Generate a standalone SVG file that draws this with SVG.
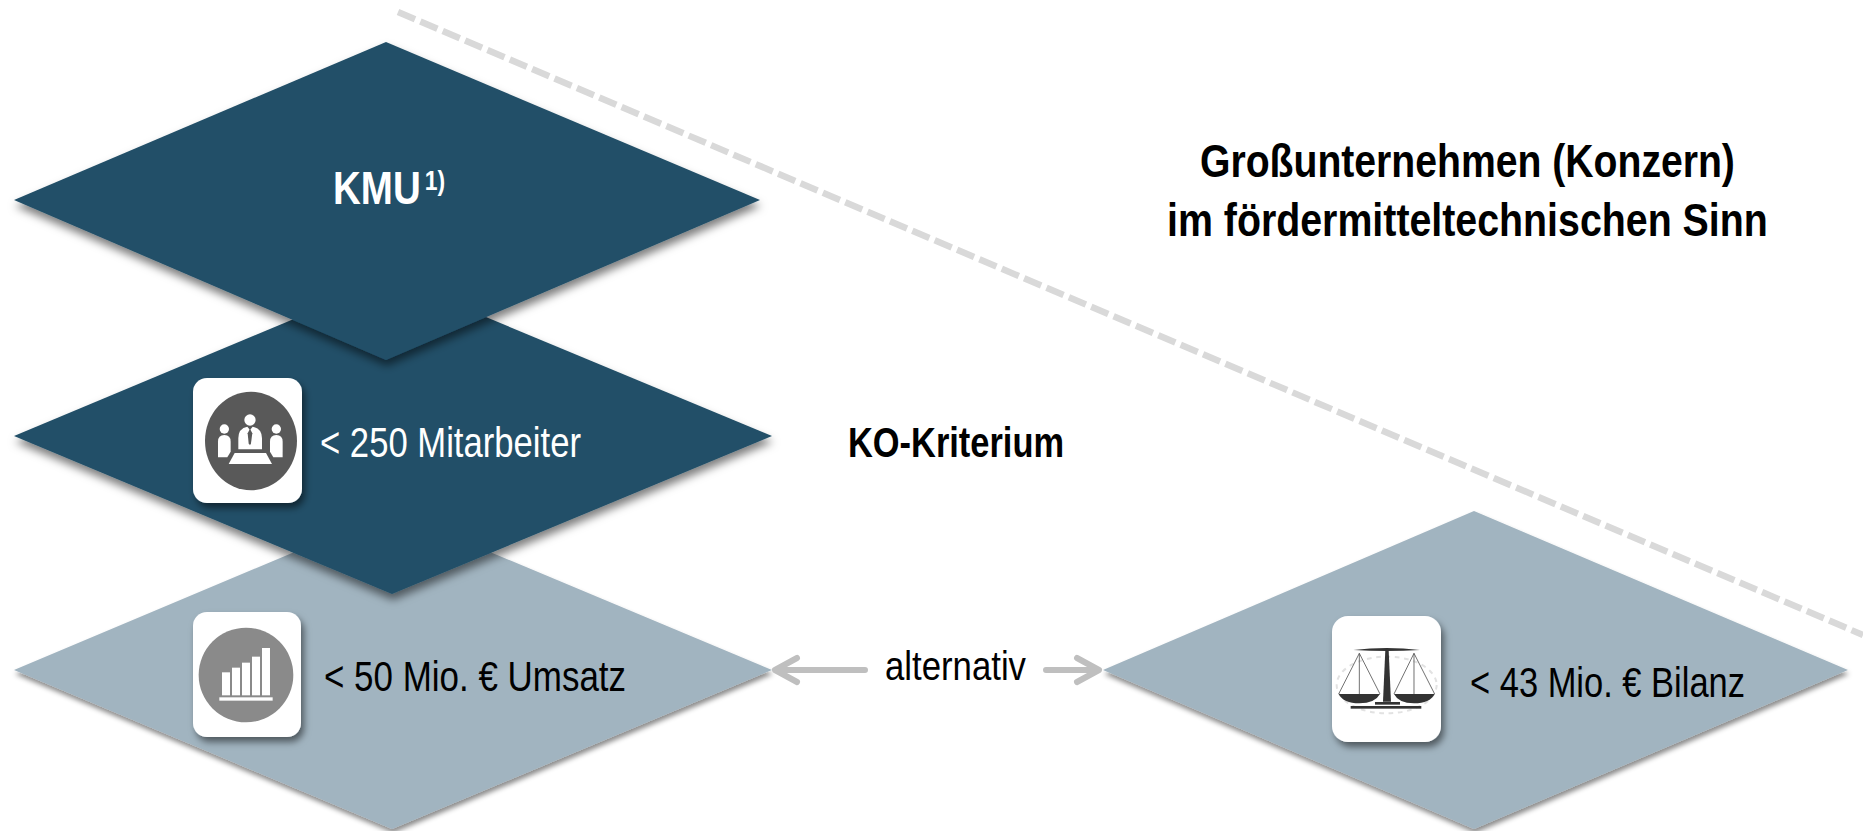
<svg xmlns="http://www.w3.org/2000/svg" width="1863" height="831" viewBox="0 0 1863 831">
<style>
text{font-family:"Liberation Sans",Arial,sans-serif}
.b{font-weight:bold}
.w{fill:#fff}
.k{fill:#000}
.dark{fill:#224f67;filter:url(#dd)}
.light{fill:#a1b4c0;filter:url(#ds)}
.card{fill:#fff;filter:url(#cs)}
.arrow{fill:none;stroke:#bfbfbf;stroke-width:6;stroke-linecap:round;stroke-linejoin:round}
</style>
<defs>
<filter id="ds" x="-5%" y="-5%" width="110%" height="115%"><feDropShadow dx="1" dy="4" stdDeviation="2.5" flood-color="#000" flood-opacity=".45"/></filter>
<filter id="dd" x="-5%" y="-5%" width="110%" height="115%"><feDropShadow dx="1" dy="6" stdDeviation="4" flood-color="#000" flood-opacity=".5"/></filter>
<filter id="cs" x="-15%" y="-15%" width="130%" height="130%"><feDropShadow dx="3" dy="5" stdDeviation="3.5" flood-color="#000" flood-opacity=".5"/></filter>
</defs>
<rect width="1863" height="831" fill="#fff"/>
<path d="M398 12L1863 635" fill="none" stroke="#d9d9d9" stroke-width="6.5" stroke-dasharray="18.5 5.8"/>
<g id="node-umsatz">
<polygon class="light" points="14,670 392,511 772,670 392,829"/>
<rect class="card" x="193" y="612" width="108" height="125" rx="14"/>
<g transform="translate(170 600) scale(.3333)">
<circle cx="228" cy="225" r="142" fill="#8a8a8a"/>
<g fill="#fff"><rect x="156" y="217" width="24" height="69"/><rect x="186" y="203" width="24" height="83"/><rect x="216" y="188" width="24" height="98"/><rect x="246" y="170" width="24" height="116"/><rect x="276" y="144" width="24" height="142"/><rect x="148" y="292" width="160" height="10"/></g>
</g>
<text class="k" x="324" y="691" font-size="42" textLength="302" lengthAdjust="spacingAndGlyphs">&lt; 50 Mio. € Umsatz</text>
</g>
<g id="node-mitarbeiter">
<polygon class="dark" points="14,436 392,278 772,436 392,594"/>
<rect class="card" x="193" y="378" width="109" height="125" rx="14"/>
<g transform="translate(170 360) scale(.3333)">
<ellipse cx="243" cy="243" rx="138" ry="148" fill="#595959"/>
<g fill="#fff">
<circle cx="240" cy="180" r="17"/><path d="M205 268V235Q205 205 232 200L240 210L248 200Q276 205 276 235V268Z"/>
<circle cx="163" cy="207" r="14"/><path d="M144 292V245Q144 225 163 225Q182 225 182 245V275L172 292Z"/>
<circle cx="319" cy="207" r="14"/><path d="M338 292V245Q338 225 319 225Q300 225 300 245V275L310 292Z"/>
<path d="M194 279H288L306 312H176Z"/>
</g>
<path d="M240 206L247 220L243 250L240 256L236 250L233 220Z" fill="#595959"/>
</g>
<text class="w" x="320" y="457" font-size="42" textLength="261" lengthAdjust="spacingAndGlyphs">&lt; 250 Mitarbeiter</text>
</g>
<g id="node-kmu">
<polygon class="dark" points="14,200 386,42 760,200 386,360"/>
<g transform="translate(333 204) scale(.82 1)">
<text class="w b" x="0" y="0" font-size="47">KMU</text>
<text class="w b" x="112" y="-14" font-size="28">1)</text>
</g>
</g>
<g id="node-bilanz">
<polygon class="light" points="1103,670 1474,511 1848,670 1474,829"/>
<rect class="card" x="1332" y="616" width="109" height="126" rx="16"/>
<g transform="translate(1310 600) scale(.3333)">
<ellipse cx="230" cy="255" rx="150" ry="85" fill="none" stroke="#e2e2e2" stroke-width="6" stroke-dasharray="14 14"/>
<path d="M130 150Q230 138 330 150Q230 156 130 150Z" fill="#333"/>
<path d="M226 150H236L243 305H219Z" fill="#333"/>
<rect x="195" y="306" width="75" height="8" fill="#333"/>
<rect x="122" y="318" width="212" height="8" fill="#333"/>
<path d="M148 160L86 282M148 160L210 282M148 160V282M312 160L252 282M312 160L374 282M312 160V282" fill="none" stroke="#555" stroke-width="2.5"/>
<path d="M86 282H210Q195 310 148 310Q100 310 86 282ZM252 282H374Q360 310 312 310Q266 310 252 282Z" fill="#333"/>
</g>
<text class="k" x="1470" y="697" font-size="42" textLength="275" lengthAdjust="spacingAndGlyphs">&lt; 43 Mio. € Bilanz</text>
</g>
<g id="connectors">
<path class="arrow" d="M865 670H776M797 658L775 670L797 682"/>
<path class="arrow" d="M1046 670H1098M1077 658L1099 670L1077 682"/>
</g>
<g id="labels">
<text class="k b" x="848" y="457" font-size="42" textLength="216" lengthAdjust="spacingAndGlyphs">KO-Kriterium</text>
<text class="k" x="885" y="680" font-size="41" textLength="141" lengthAdjust="spacingAndGlyphs">alternativ</text>
<text class="k b" transform="translate(1200 177) scale(.851 1)" font-size="46">Großunternehmen (Konzern)</text>
<text class="k b" transform="translate(1167 236) scale(.855 1)" font-size="46">im fördermitteltechnischen Sinn</text>
</g>
</svg>
